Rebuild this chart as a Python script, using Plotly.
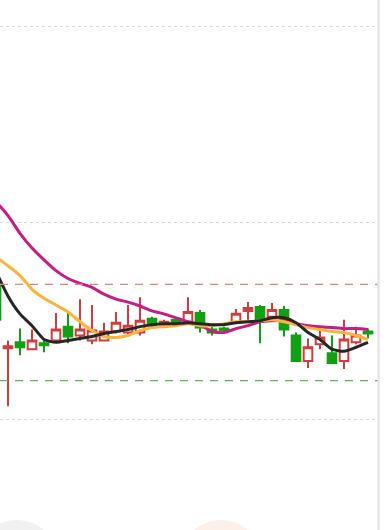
import plotly.graph_objects as go

# Day index of each visible candle
days = list(range(32))

opens  = [9.36, 8.72, 8.78, 8.71, 8.77, 8.80, 8.94, 8.85, 8.80, 8.80, 8.89, 8.88, 8.88, 9.02, 8.97, 9.01,
          8.99, 9.08, 8.91, 8.92, 8.98, 9.10, 9.14, 9.04, 9.11, 8.85, 8.59, 8.76, 8.67, 8.59, 8.78, 8.89]
highs  = [9.41, 8.80, 8.92, 8.91, 8.80, 9.08, 9.08, 9.22, 9.16, 8.98, 9.09, 9.16, 9.24, 9.04, 9.01, 9.03,
          9.24, 9.11, 8.94, 8.94, 9.12, 9.19, 9.16, 9.18, 9.15, 8.88, 8.82, 8.92, 8.85, 9.01, 8.94, 8.92]
lows   = [8.96, 8.13, 8.65, 8.71, 8.68, 8.80, 8.77, 8.80, 8.76, 8.80, 8.87, 8.85, 8.85, 8.94, 8.95, 8.96,
          8.98, 8.88, 8.85, 8.88, 8.97, 9.01, 8.77, 8.99, 8.84, 8.58, 8.52, 8.71, 8.56, 8.51, 8.76, 8.82]
closes = [9.01, 8.74, 8.73, 8.80, 8.75, 8.91, 8.84, 8.91, 8.90, 8.89, 8.98, 8.95, 9.00, 8.96, 8.99, 8.98,
          9.09, 8.93, 8.88, 8.90, 9.07, 9.13, 9.00, 9.11, 8.91, 8.59, 8.73, 8.83, 8.57, 8.81, 8.85, 8.87]

ma_short = [9.50, 9.25, 9.07, 8.95, 8.81, 8.78, 8.80, 8.82, 8.84, 8.87, 8.89, 8.91, 8.94, 8.96, 8.97, 8.97,
            8.98, 8.97, 8.96, 8.96, 8.98, 8.99, 9.00, 9.03, 9.03, 8.98, 8.88, 8.81, 8.71, 8.69, 8.73, 8.78]
ma_mid   = [9.65, 9.56, 9.46, 9.32, 9.23, 9.16, 9.09, 8.99, 8.90, 8.84, 8.83, 8.85, 8.90, 8.93, 8.94, 8.95,
            8.97, 8.95, 8.95, 8.97, 8.99, 8.99, 9.00, 9.01, 8.99, 8.96, 8.93, 8.91, 8.89, 8.88, 8.85, 8.81]
ma_long  = [10.21, 10.07, 9.89, 9.74, 9.62, 9.51, 9.43, 9.38, 9.34, 9.27, 9.22, 9.19, 9.15, 9.10, 9.07, 9.03,
            8.99, 8.96, 8.89, 8.88, 8.92, 8.95, 8.99, 9.00, 9.00, 8.97, 8.95, 8.94, 8.93, 8.92, 8.92, 8.91]

upper_level = 9.37
lower_level = 8.39
grid_levels = [8, 10, 12]

RED = "#d23c3c"
GREEN = "#12a012"

fig = go.Figure()
fig.add_trace(go.Candlestick(
    x=days, open=opens, high=highs, low=lows, close=closes,
    increasing=dict(line=dict(color=RED, width=2), fillcolor="white"),
    decreasing=dict(line=dict(color=GREEN, width=2), fillcolor=GREEN),
    showlegend=False, hoverinfo="skip",
))
for vals, col in [(ma_long, "#c81c84"), (ma_mid, "#fbb33c"), (ma_short, "#262626")]:
    fig.add_trace(go.Scatter(x=days, y=vals, mode="lines",
                             line=dict(color=col, width=3, shape="spline", smoothing=0.6),
                             showlegend=False, hoverinfo="skip"))

W, H = 389, 530
shapes = [
    dict(type="line", xref="paper", yref="y", x0=0, x1=378 / W, y0=upper_level, y1=upper_level,
         line=dict(color="#e67e7e", width=1.2, dash="8px,7px")),
    dict(type="line", xref="paper", yref="y", x0=0, x1=378 / W, y0=lower_level, y1=lower_level,
         line=dict(color="#5db55d", width=1.2, dash="8px,7px")),
    dict(type="line", xref="paper", yref="paper", x0=378.5 / W, x1=378.5 / W, y0=0, y1=1,
         line=dict(color="#e4e4e4", width=2.5)),
    dict(type="circle", xref="paper", yref="paper", x0=(17 - 41) / W, x1=(17 + 41) / W,
         y0=1 - 602 / H, y1=1 - 520 / H, fillcolor="#f1f1f1", line=dict(width=0)),
    dict(type="circle", xref="paper", yref="paper", x0=(221 - 41) / W, x1=(221 + 41) / W,
         y0=1 - 602 / H, y1=1 - 520 / H, fillcolor="#fdf0e8", line=dict(width=0)),
]

fig.update_layout(
    width=W, height=H,
    margin=dict(l=0, r=0, t=0, b=0),
    paper_bgcolor="white", plot_bgcolor="white",
    boxgap=0.28, boxgroupgap=0,
    shapes=shapes,
    xaxis=dict(range=[0.3333, 31.8333], domain=[0, 378 / W], showgrid=False, zeroline=False,
               showticklabels=False, ticks="", rangeslider=dict(visible=False), fixedrange=True),
    yaxis=dict(range=[6.8702, 12.2646], tickvals=grid_levels, showticklabels=False, ticks="",
               showgrid=True, gridcolor="#d9d9d9", gridwidth=1, griddash="dot", zeroline=False,
               fixedrange=True),
)

fig.write_html("out.html", config={"displayModeBar": False},
               post_script="document.body.style.margin='0px';document.body.style.overflow='hidden';")
